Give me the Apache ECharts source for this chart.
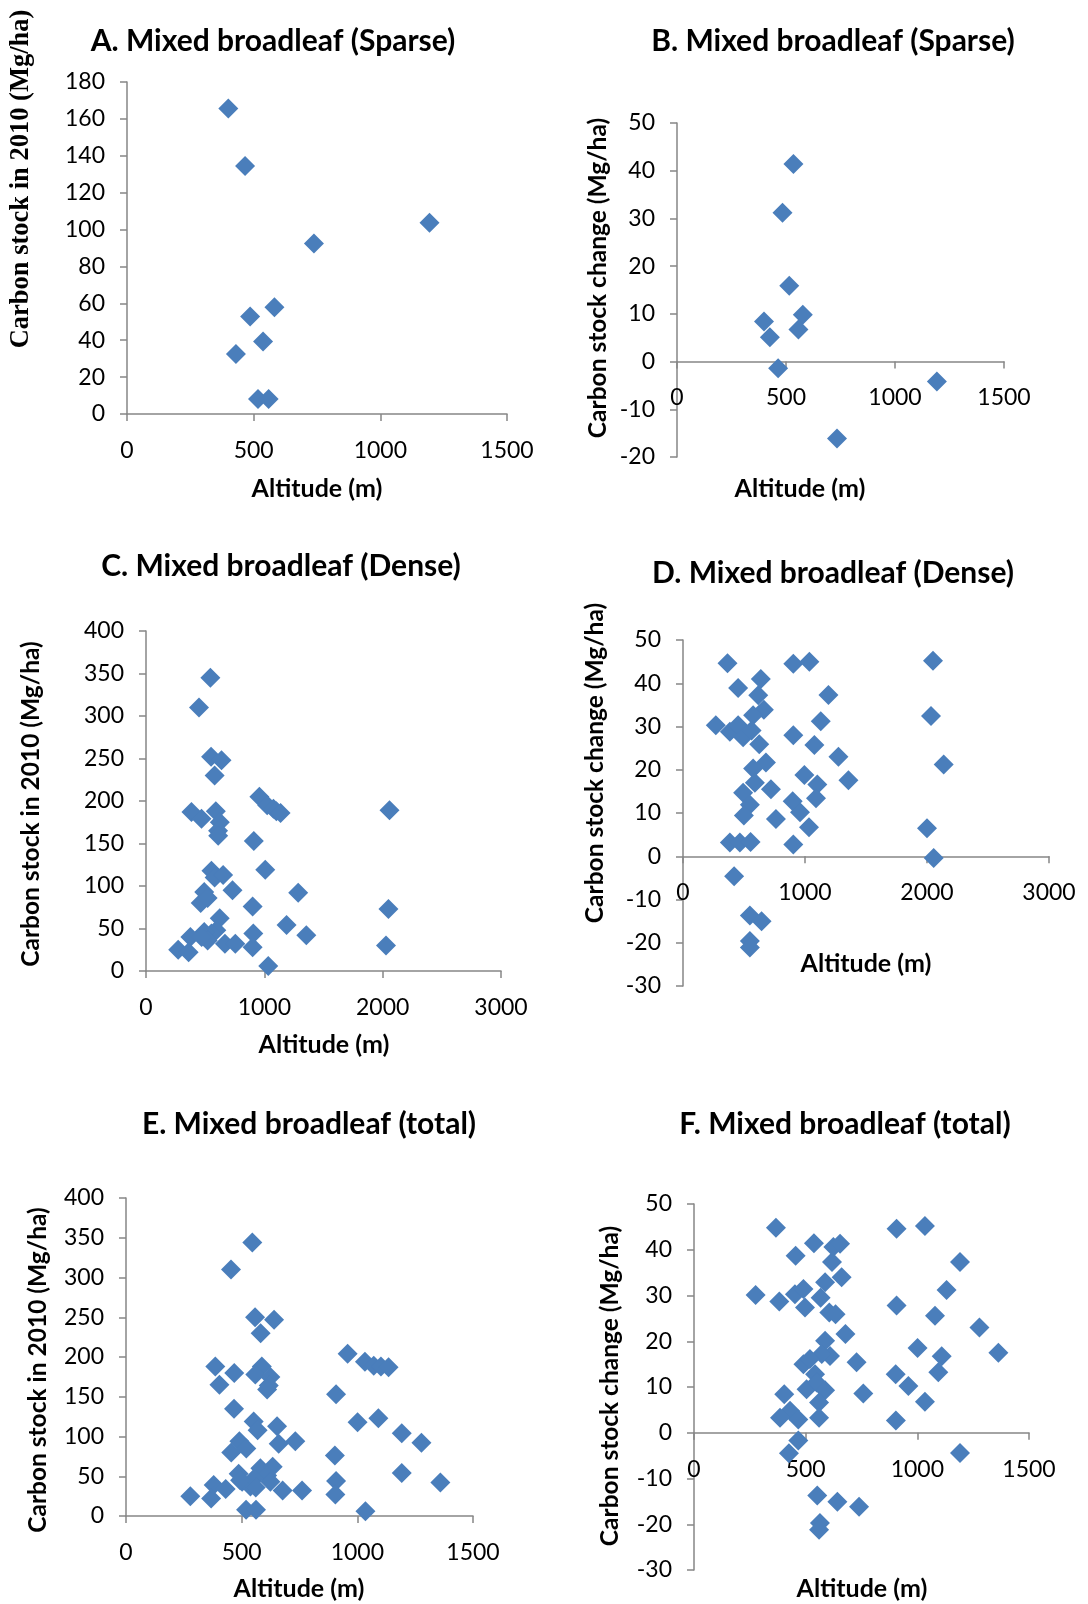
<!DOCTYPE html>
<html>
<head>
<meta charset="utf-8">
<script src="https://cdn.jsdelivr.net/npm/echarts@6/dist/echarts.min.js"></script>
<style>
  html, body { margin: 0; padding: 0; background: #fff; }
  #chart { width: 1088px; height: 1604px; }
</style>
</head>
<body>
<div id="chart"></div>
<script>
// [altitude (m), value]
var sparseStock = [[400,165.6],[466,134.5],[1194,103.7],[738,92.5],[582,57.9],[486,52.8],[537,39.3],[430,32.5],[517,8.1],[559,8.1]];
var sparseChange = [[534,41.4],[484,31.2],[515,15.9],[577,9.8],[399,8.4],[557,6.7],[426,5.1],[464,-1.4],[1192,-4.2],[734,-16.1]];

var denseStock = [[544,345],[448,310],[550,252],[638,248],[580,230],[958,205],[1024,195],[1077,191],[1102,188],[1137,186],
  [384,187],[469,179],[590,188],[624,175],[609,165],[610,159],[911,153],[553,118],[580,110],[652,113],
  [1008,119],[731,95],[1286,92],[462,80],[492,93],[521,86],[901,76],[623,62],[594,48],[553,44],
  [492,46],[521,36],[375,40],[470,40],[272,25],[360,22],[667,32],[755,32],[901,28],[907,44],
  [1188,54],[1355,42],[1033,6],[2028,30],[2049,73],[2058,189]];

var denseChange = [[365,44.6],[904,44.5],[1036,45],[452,38.9],[638,41],[617,37.2],[1192,37.3],[663,33.9],[575,32.6],[1129,31.2],
  [269,30.3],[384,28.8],[452,30.3],[493,27.5],[562,29.1],[625,25.9],[904,28],[1077,25.7],[1274,23],[680,21.7],
  [575,20.3],[995,18.8],[1356,17.6],[589,17],[1101,16.6],[721,15.5],[493,14.7],[1090,13.4],[899,12.7],[548,11.9],
  [959,10.2],[499,9.4],[762,8.6],[1033,6.7],[384,3.2],[466,3.2],[554,3.3],[904,2.7],[419,-4.6],[548,-13.7],
  [644,-15],[548,-19.6],[548,-21.1],[2049,45.2],[2033,32.4],[2137,21.2],[2000,6.5],[2055,-0.4]];

var totalStock = [[546,344],[454,310],[558,250],[640,247],[582,230],[958,204],[1033,194],[1071,189],[1102,188],[1135,187],
  [386,188],[468,180],[404,165],[587,188],[559,178],[624,175],[617,164],[610,159],[908,153],[467,135],
  [552,119],[569,108],[653,113],[1001,118],[1091,123],[1192,104],[1277,92],[660,91],[732,94],[490,94],
  [520,85],[455,80],[903,76],[487,53],[581,60],[634,62],[610,51],[1192,54],[379,39],[431,34],
  [502,43],[538,37],[624,43],[677,32],[761,32],[908,44],[905,27],[1359,42],[278,25],[368,22],
  [519,8],[562,8],[1035,6],[553,47],[561,36],[493,45]];

var totalChange = [[367,44.8],[907,44.6],[1034,45.2],[537,41.4],[624,40.6],[654,41.3],[455,38.7],[618,37.3],[1191,37.3],[661,34],
  [587,32.9],[1131,31.2],[276,30.1],[382,28.7],[452,30.3],[490,31.4],[497,27.4],[567,29.5],[907,27.8],[606,26.3],
  [634,25.9],[1079,25.6],[1278,23],[678,21.6],[587,20.1],[1001,18.5],[1363,17.5],[609,16.8],[572,17.2],[1109,16.7],
  [728,15.4],[490,15],[519,16.1],[1094,13.2],[903,12.8],[542,12.8],[960,10.2],[504,9.5],[549,11],[587,9.3],
  [404,8.4],[758,8.6],[1034,6.8],[560,6.6],[430,4.8],[385,3.3],[467,2.9],[560,3.3],[904,2.7],[467,-1.7],
  [425,-4.5],[1191,-4.4],[552,-13.7],[642,-15.1],[739,-16.2],[564,-19.7],[560,-21.2]];

var titles = ['A. Mixed broadleaf (Sparse)', 'B. Mixed broadleaf (Sparse)', 'C. Mixed broadleaf (Dense)',
  'D. Mixed broadleaf (Dense)', 'E. Mixed broadleaf (total)', 'F. Mixed broadleaf (total)'];
var xName = 'Altitude (m)';
var yStockName = 'Carbon stock in 2010 (Mg/ha)';
var yChangeName = 'Carbon stock change (Mg/ha)';

var blue = '#4A7EBB';
var axisGray = '#868686';

// panel layout: grid box, axis ranges, text spots
var panels = [
  { data: sparseStock, grid: [127, 82, 380, 332], x: [0, 1500, 500], y: [0, 180, 20],
    title: [273, 41], xn: [317, 489], yn: [21, 179], yName: yStockName, serif: true },
  { data: sparseChange, grid: [677, 123, 327, 334], x: [0, 1500, 500], y: [-20, 50, 10],
    title: [833, 41], xn: [800, 489], yn: [598, 278], yName: yChangeName },
  { data: denseStock, grid: [146, 631, 355, 340], x: [0, 3000, 1000], y: [0, 400, 50],
    title: [281, 566], xn: [324, 1045], yn: [31, 804], yName: yStockName },
  { data: denseChange, grid: [683, 640, 366, 346], x: [0, 3000, 1000], y: [-30, 50, 10],
    title: [833, 573], xn: [866, 964], yn: [595, 763], yName: yChangeName },
  { data: totalStock, grid: [126, 1198, 347, 318], x: [0, 1500, 500], y: [0, 400, 50],
    title: [309, 1124], xn: [299, 1589], yn: [38, 1370], yName: yStockName },
  { data: totalChange, grid: [694, 1204, 335, 366], x: [0, 1500, 500], y: [-30, 50, 10],
    title: [845, 1124], xn: [862, 1589], yn: [610, 1386], yName: yChangeName }
];

var grids = [], xAxes = [], yAxes = [], series = [], graphics = [];
var plain = function (v) { return String(v); };

panels.forEach(function (p, i) {
  grids.push({ left: p.grid[0], top: p.grid[1], width: p.grid[2], height: p.grid[3] });
  var lineStyle = { color: axisGray, width: 1.5 };
  // x axis sits on y = 0; move it up from the grid bottom by hand
  var zeroUp = p.y[0] < 0 ? -p.grid[3] * (-p.y[0]) / (p.y[1] - p.y[0]) : 0;
  xAxes.push({
    type: 'value', gridIndex: i, min: p.x[0], max: p.x[1], interval: p.x[2],
    position: 'bottom', offset: zeroUp,
    axisLine: { onZero: false, lineStyle: lineStyle },
    axisTick: { show: true, length: 7, lineStyle: lineStyle },
    axisLabel: { color: '#000', fontFamily: 'Lato', fontSize: 23, margin: 25, formatter: plain },
    splitLine: { show: false }
  });
  yAxes.push({
    type: 'value', gridIndex: i, min: p.y[0], max: p.y[1], interval: p.y[2],
    axisLine: { show: true, onZero: false, lineStyle: lineStyle },
    axisTick: { show: true, length: 7, lineStyle: lineStyle },
    axisLabel: { color: '#000', fontFamily: 'Lato', fontSize: 23, margin: 22, formatter: plain },
    splitLine: { show: false }
  });
  series.push({
    type: 'scatter', xAxisIndex: i, yAxisIndex: i, data: p.data,
    symbol: 'diamond', symbolSize: 20, clip: false,
    itemStyle: { color: blue, opacity: 1 }
  });

  graphics.push({
    type: 'text', x: p.title[0], y: p.title[1],
    style: { text: titles[i], font: 'bold 30px Lato', fill: '#000',
      textAlign: 'center', textVerticalAlign: 'middle', align: 'center', verticalAlign: 'middle' }
  });
  graphics.push({
    type: 'text', x: p.xn[0], y: p.xn[1],
    style: { text: xName, font: 'bold 25px Lato', fill: '#000',
      textAlign: 'center', textVerticalAlign: 'middle', align: 'center', verticalAlign: 'middle' }
  });
  graphics.push({
    type: 'text', x: p.yn[0], y: p.yn[1], rotation: Math.PI / 2,
    style: { text: p.yName,
      font: p.serif ? 'bold 26.5px "Liberation Serif"' : 'bold 24.5px Lato', fill: '#000',
      textAlign: 'center', textVerticalAlign: 'middle', align: 'center', verticalAlign: 'middle' }
  });
});

var chart = echarts.init(document.getElementById('chart'));
chart.setOption({
  backgroundColor: '#fff',
  animation: false,
  grid: grids,
  xAxis: xAxes,
  yAxis: yAxes,
  series: series,
  graphic: graphics
});
</script>
</body>
</html>
